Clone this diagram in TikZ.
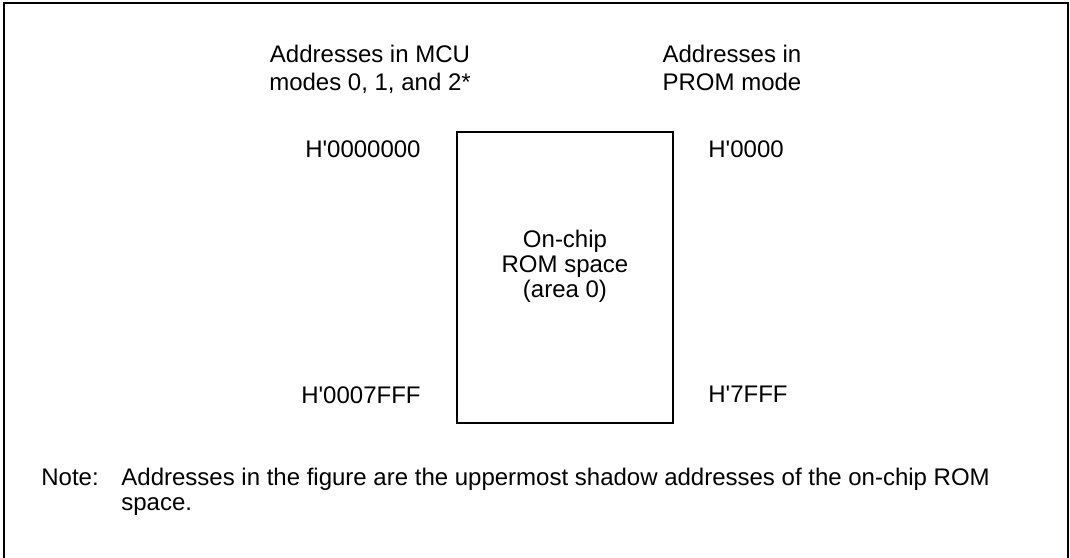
\documentclass[tikz,border=0pt]{standalone}
\usepackage{fontspec}
\setmainfont{Liberation Sans}
\begin{document}
\begin{tikzpicture}[
    x=0.5pt, y=-0.5pt,
    lbl/.style={inner sep=0pt, anchor=base, font=\fontsize{12}{13.5}\selectfont},
    membox/.style={rectangle, draw, line width=0.75pt, minimum width=108pt, minimum height=145.5pt, inner sep=0pt},
    frame/.style={line width=1pt}
]
    \useasboundingbox (0,0) rectangle (1070,557);
    \draw[frame] (4,560) -- (4,3) -- (1068,3) -- (1068,560);

    % column headings (base = last line)
    \node[lbl, align=center] (mcu) at (370,90) {Addresses in MCU\\modes 0, 1, and 2*};
    \node[lbl, align=center] (prom) at (732,90) {Addresses in\\PROM mode};

    \node[membox] (rom) at (565,277.5) {};
    \node[lbl, align=center, font=\fontsize{12}{12.5}\selectfont] (romtxt) at (565,297) {On-chip\\ROM space\\(area 0)};

    \node[lbl, anchor=base east] (mcutop) at (421,157) {H\textquotesingle 0000000};
    \node[lbl, anchor=base east] (mcubot) at (421,403) {H\textquotesingle 0007FFF};
    \node[lbl, anchor=base west] (promtop) at (708,157) {H\textquotesingle 0000};
    \node[lbl, anchor=base west] (prombot) at (708,402) {H\textquotesingle 7FFF};

    \node[lbl, anchor=base west] (note) at (41,485) {Note:};
    \node[lbl, anchor=base west] (notetxt) at (121,485)
        {Addresses in the figure are the uppermost shadow addresses of the on-chip ROM};
    \node[lbl, anchor=base west] (notetxt2) at (121,510) {space.};
\end{tikzpicture}
\end{document}
